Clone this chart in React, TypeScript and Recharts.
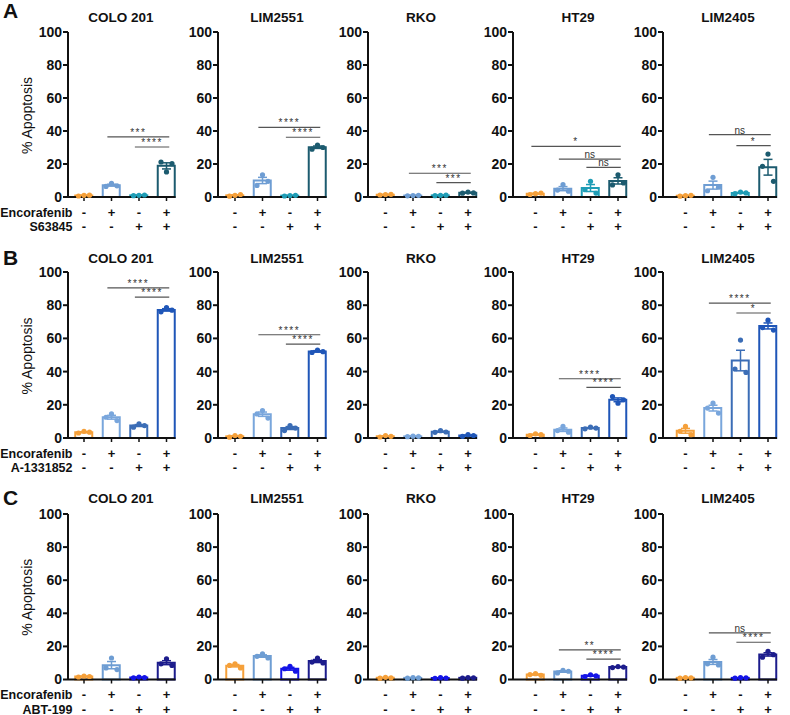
import {
  ComposedChart,
  Bar,
  Cell,
  Scatter,
  ErrorBar,
  XAxis,
  YAxis,
  ReferenceLine,
} from 'recharts';

const cellLines = ['COLO 201', 'LIM2551', 'RKO', 'HT29', 'LIM2405'];
const drugs = ['S63845', 'A-1331852', 'ABT-199'];
const panelLetters = ['A', 'B', 'C'];
const encorafenibSigns = ['-', '+', '-', '+'];
const drugSigns = ['-', '-', '+', '+'];
const yTicks = [0, 20, 40, 60, 80, 100];

const colorsA = ['#F5A03A', '#6E9DD3', '#1F9DB6', '#1C5B6F'];
const colorsB = ['#F5A03A', '#79A6DC', '#3B6DB6', '#1F56B8'];
const colorsC = ['#F5A03A', '#6E9DD3', '#1414E6', '#1C1C8C'];

// % apoptosis, three replicates per group: control, encorafenib, drug, combination
const colo201S63845 = [[0.6, 1.0, 1.1], [6.4, 8.3, 6.8], [0.8, 1.0, 1.2], [21.2, 15.2, 20.2]];
const lim2551S63845 = [[0.5, 1.0, 1.5], [7.0, 13.5, 9.5], [0.6, 0.9, 1.0], [29.0, 31.5, 30.0]];
const rkoS63845 = [[1.2, 1.5, 1.6], [0.7, 0.9, 1.0], [0.8, 1.0, 1.1], [2.3, 3.0, 2.5]];
const ht29S63845 = [[1.5, 2.0, 2.4], [4.2, 7.5, 3.5], [4.4, 9.5, 2.4], [7.3, 13.5, 8.5]];
const lim2405S63845 = [[0.5, 0.8, 1.0], [3.8, 11.9, 5.9], [2.0, 3.0, 2.5], [18.6, 26.0, 9.5]];

const colo201A1331852 = [[3.0, 4.0, 3.5], [12.5, 14.5, 10.5], [6.5, 8.5, 7.5], [76.0, 78.5, 77.0]];
const lim2551A1331852 = [[0.5, 1.5, 1.0], [14.5, 16.5, 12.0], [4.5, 7.5, 6.0], [51.5, 53.0, 52.0]];
const rkoA1331852 = [[0.6, 1.5, 1.0], [0.8, 1.1, 1.0], [3.4, 4.4, 3.6], [1.0, 2.0, 1.5]];
const ht29A1331852 = [[1.5, 2.5, 2.0], [4.5, 7.0, 3.5], [5.5, 6.5, 6.0], [25.0, 21.0, 23.0]];
const lim2405A1331852 = [[4.0, 7.0, 2.0], [18.0, 21.0, 15.0], [41.5, 59.0, 39.5], [66.5, 71.0, 65.0]];

const colo201ABT199 = [[1.5, 2.1, 1.8], [7.0, 13.0, 6.0], [1.0, 1.5, 1.2], [9.5, 12.5, 8.5]];
const lim2551ABT199 = [[8.5, 9.5, 7.0], [14.0, 15.5, 13.0], [6.5, 8.0, 5.0], [10.5, 13.0, 10.0]];
const rkoABT199 = [[0.8, 1.3, 1.0], [0.8, 1.1, 1.0], [0.7, 1.1, 0.9], [0.8, 1.2, 1.0]];
const ht29ABT199 = [[3.0, 3.5, 2.5], [4.0, 5.5, 5.0], [1.8, 2.8, 2.2], [7.2, 7.8, 7.5]];
const lim2405ABT199 = [[0.8, 1.2, 1.0], [9.5, 13.5, 8.8], [0.8, 1.1, 1.0], [13.5, 17.0, 15.0]];

// significance brackets: [from group, to group, height (%), label]
type Bracket = [number, number, number, string];
const colo201S63845Sig: Bracket[] = [[2, 4, 36.4, '***'], [3, 4, 30.3, '****']];
const lim2551S63845Sig: Bracket[] = [[2, 4, 42.2, '****'], [3, 4, 36.2, '****']];
const rkoS63845Sig: Bracket[] = [[2, 4, 14.4, '***'], [3, 4, 8.7, '***']];
const ht29S63845Sig: Bracket[] = [[1, 4, 30.7, '*'], [2, 4, 23.0, 'ns'], [3, 4, 18.0, 'ns']];
const lim2405S63845Sig: Bracket[] = [[2, 4, 37.8, 'ns'], [3, 4, 31.1, '*']];

const colo201A1331852Sig: Bracket[] = [[2, 4, 90.4, '****'], [3, 4, 84.9, '****']];
const lim2551A1331852Sig: Bracket[] = [[2, 4, 62.2, '****'], [3, 4, 56.6, '****']];
const ht29A1331852Sig: Bracket[] = [[2, 4, 35.7, '****'], [3, 4, 30.5, '****']];
const lim2405A1331852Sig: Bracket[] = [[2, 4, 81.3, '****'], [3, 4, 75.3, '*']];

const ht29ABT199Sig: Bracket[] = [[2, 4, 17.9, '**'], [3, 4, 12.3, '****']];
const lim2405ABT199Sig: Bracket[] = [[2, 4, 28.2, 'ns'], [3, 4, 22.5, '****']];

const rows = [
  {
    colors: colorsA,
    reps: [colo201S63845, lim2551S63845, rkoS63845, ht29S63845, lim2405S63845],
    sig: [colo201S63845Sig, lim2551S63845Sig, rkoS63845Sig, ht29S63845Sig, lim2405S63845Sig],
  },
  {
    colors: colorsB,
    reps: [colo201A1331852, lim2551A1331852, rkoA1331852, ht29A1331852, lim2405A1331852],
    sig: [colo201A1331852Sig, lim2551A1331852Sig, [], ht29A1331852Sig, lim2405A1331852Sig],
  },
  {
    colors: colorsC,
    reps: [colo201ABT199, lim2551ABT199, rkoABT199, ht29ABT199, lim2405ABT199],
    sig: [[], [], [], ht29ABT199Sig, lim2405ABT199Sig],
  },
];

// layout
const FONT = '"Liberation Sans", Arial, sans-serif';
const BAND = 27.5;
const RIGHT_GAP = 9;
const axisXs = [68, 218, 368, 513, 663];
const leftGaps = [16, 17, 17.5, 22.5, 22.5];
const rowTops = [32, 272, 513.5];
const plotHeights = [165, 166, 165.5];
const titleXs = [121, 277, 421, 578, 728];
const titleYs = [22, 263, 503];
const letterYs = [18, 265, 505];
const Y_AXIS_W = 44;
const X_AXIS_H = 40;
const TOP_PAD = 10;
const RIGHT_PAD = 12;
const dotSpreadPx = [-5.5, 0, 5.5];

const mean = (v: number[]) => v.reduce((a, b) => a + b, 0) / v.length;
const sem = (v: number[]) => {
  const m = mean(v);
  const sd = Math.sqrt(v.reduce((a, b) => a + (b - m) ** 2, 0) / (v.length - 1));
  return sd / Math.sqrt(v.length);
};

interface PanelProps {
  row: number;
  col: number;
}

function SignTick(props: any) {
  const { x, y, index, showNames, drug } = props;
  const style = { fontFamily: FONT, fontSize: 13, fontWeight: 'bold' as const, fill: '#111' };
  const nameStyle = { ...style, fontSize: 12.5 };
  return (
    <g>
      <text x={x} y={y + 13.5} textAnchor="middle" style={style}>
        {encorafenibSigns[index]}
      </text>
      <text x={x} y={y + 28} textAnchor="middle" style={style}>
        {drugSigns[index]}
      </text>
      {showNames && index === 0 && (
        <>
          <text x={x - 11.5} y={y + 13.5} textAnchor="end" style={nameStyle}>
            Encorafenib
          </text>
          <text x={x - 11.5} y={y + 28} textAnchor="end" style={nameStyle}>
            {drug}
          </text>
        </>
      )}
    </g>
  );
}

function Panel({ row, col }: PanelProps) {
  const { colors, reps, sig } = rows[row];
  const groups = reps[col];
  const gap = leftGaps[col];
  const plotW = gap + 3 * BAND + RIGHT_GAP;
  const domain = [1 - gap / BAND, 4 + RIGHT_GAP / BAND];
  const extraLeft = col === 0 ? 24 : 0;
  const plotH = plotHeights[row];

  const barData = groups.map((g, i) => ({ x: i + 1, mean: mean(g), err: sem(g) }));

  return (
    <div
      style={{
        position: 'absolute',
        left: axisXs[col] - Y_AXIS_W - extraLeft,
        top: rowTops[row] - TOP_PAD,
      }}
    >
      <ComposedChart
        width={extraLeft + Y_AXIS_W + plotW + RIGHT_PAD}
        height={TOP_PAD + plotH + X_AXIS_H}
        data={barData}
        margin={{ top: TOP_PAD, right: RIGHT_PAD, bottom: 0, left: extraLeft }}
      >
        <XAxis
          dataKey="x"
          type="number"
          domain={domain}
          ticks={[1, 2, 3, 4]}
          height={X_AXIS_H}
          tickSize={4}
          tickMargin={2}
          axisLine={{ stroke: '#111', strokeWidth: 2 }}
          tickLine={{ stroke: '#111', strokeWidth: 1.5 }}
          tick={(p: any) => <SignTick {...p} showNames={col === 0} drug={drugs[row]} />}
          interval={0}
        />
        <YAxis
          type="number"
          domain={[0, 100]}
          ticks={yTicks}
          width={Y_AXIS_W}
          tickSize={5}
          tickMargin={1}
          axisLine={{ stroke: '#111', strokeWidth: 2 }}
          tickLine={{ stroke: '#111', strokeWidth: 2 }}
          tick={{ fontSize: 14, fontWeight: 'bold', fill: '#111', fontFamily: FONT }}
        />
        <Bar dataKey="mean" barSize={17} fill="#fff" strokeWidth={2} isAnimationActive={false}>
          {barData.map((_, i) => (
            <Cell key={i} stroke={colors[i]} />
          ))}
        </Bar>
        {barData.map((d, i) => (
          <Scatter
            key={`e${i}`}
            data={[d]}
            dataKey="mean"
            shape={() => <g />}
            isAnimationActive={false}
          >
            <ErrorBar dataKey="err" direction="y" width={4.5} stroke={colors[i]} strokeWidth={1.5} />
          </Scatter>
        ))}
        {groups.map((g, i) => (
          <Scatter
            key={`d${i}`}
            data={g.map((v, k) => ({ x: i + 1, v, k }))}
            dataKey="v"
            isAnimationActive={false}
            shape={(p: any) => (
              <circle cx={p.cx + dotSpreadPx[p.payload?.k ?? 1]} cy={p.cy} r={2.6} fill={colors[i]} />
            )}
          />
        ))}
        {sig[col].map(([from, to, h, label], i) => (
          <ReferenceLine
            key={`s${i}`}
            segment={[
              { x: from - 0.15, y: h },
              { x: to + 0.1, y: h },
            ]}
            stroke="#555"
            strokeWidth={1.2}
            label={{
              value: label,
              position: 'top',
              offset: 1,
              fontSize: 10,
              fill: '#333',
              fontFamily: FONT,
              letterSpacing: label === 'ns' ? 0 : 1.5,
            }}
          />
        ))}
      </ComposedChart>
    </div>
  );
}

export default function App() {
  return (
    <div
      style={{
        position: 'absolute',
        left: 0,
        top: 0,
        width: 790,
        height: 715,
        background: '#fff',
        fontFamily: FONT,
      }}
    >
      {rows.map((_, r) => cellLines.map((_, c) => <Panel key={`${r}-${c}`} row={r} col={c} />))}
      <svg width={790} height={715} style={{ position: 'absolute', left: 0, top: 0, pointerEvents: 'none' }}>
        {rows.map((_, r) => (
          <g key={r}>
            <text x={3} y={letterYs[r]} fontSize={21} fontWeight="bold" fill="#111">
              {panelLetters[r]}
            </text>
            {cellLines.map((name, c) => (
              <text
                key={name}
                x={titleXs[c]}
                y={titleYs[r]}
                textAnchor="middle"
                fontSize={13.5}
                fontWeight="bold"
                fill="#111"
              >
                {name}
              </text>
            ))}
            <text
              x={27}
              y={rowTops[r] + plotHeights[r] / 2 + 1}
              transform={`rotate(-90 27 ${rowTops[r] + plotHeights[r] / 2 + 1})`}
              textAnchor="middle"
              dominantBaseline="central"
              fontSize={14}
              fill="#111"
            >
              % Apoptosis
            </text>
          </g>
        ))}
      </svg>
    </div>
  );
}
